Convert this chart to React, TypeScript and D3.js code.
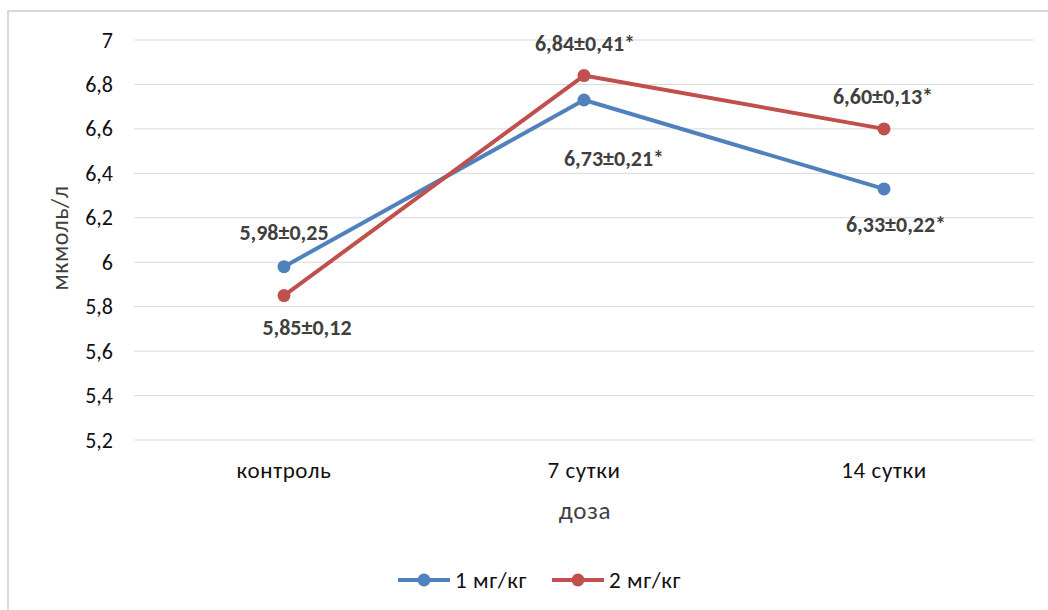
import React from "react";
import * as d3 from "d3";

const categories = ["контроль", "7 сутки", "14 сутки"];
const seriesNames = ["1 мг/кг", "2 мг/кг"];
const series1 = [5.98, 6.73, 6.33];
const series2 = [5.85, 6.84, 6.6];
const labels1 = ["5,98±0,25", "6,73±0,21*", "6,33±0,22*"];
const labels2 = ["5,85±0,12", "6,84±0,41*", "6,60±0,13*"];
const yTicks = [5.2, 5.4, 5.6, 5.8, 6, 6.2, 6.4, 6.6, 6.8, 7];

// label offsets (px) relative to point, positional styling only
const off1 = [[0, -34], [30, 58], [12, 36]];
const off2 = [[23, 32], [1, -32], [-1, -32]];

const W = 1048, H = 610;
const FONT = 'Carlito, Calibri, "Open Sans", sans-serif';

export default function App() {
  const x = d3.scaleBand<string>().domain(categories).range([134, 1034]);
  const y = d3.scaleLinear().domain([5.2, 7]).range([440, 40]);
  const cx = (c: string) => (x(c) as number) + x.bandwidth() / 2;
  const line = d3.line<number>().x((_, i) => cx(categories[i])).y((v) => y(v));
  const colors = ["#4F81BD", "#C0504D"];
  const data = [series1, series2];
  const labs = [labels1, labels2];
  const offs = [off1, off2];
  const fmt = (v: number) => String(v).replace(".", ",");
  return (
    <svg width={W} height={H} style={{ position: "absolute", left: 0, top: 0, background: "#fff" }} fontFamily={FONT}>
      <rect x={8} y={11} width={1200} height={800} fill="#fff" stroke="#d9d9d9" strokeWidth={2} />
      {yTicks.map((t) => (
        <g key={t}>
          <line x1={134} x2={1034} y1={y(t)} y2={y(t)} stroke="#d9d9d9" strokeWidth={1} />
          <text x={113} y={y(t)} textAnchor="end" dominantBaseline="central" fontSize={22} fill="#111">{fmt(t)}</text>
        </g>
      ))}
      {categories.map((c) => (
        <text key={c} x={cx(c)} y={470} textAnchor="middle" dominantBaseline="central" fontSize={23} fill="#111" letterSpacing={0.6}>{c}</text>
      ))}
      <text x={585} y={510} textAnchor="middle" dominantBaseline="central" fontSize={25} fill="#404040" letterSpacing={0.8}>доза</text>
      <text transform={`translate(59,238) rotate(-90)`} textAnchor="middle" dominantBaseline="central" fontSize={24} fill="#404040" letterSpacing={0.5}>мкмоль/л</text>
      {data.map((s, k) => (
        <g key={k}>
          <path d={line(s) || ""} fill="none" stroke={colors[k]} strokeWidth={4} strokeLinejoin="round" strokeLinecap="round" />
          {s.map((v, i) => (
            <circle key={i} cx={cx(categories[i])} cy={y(v)} r={6.5} fill={colors[k]} />
          ))}
        </g>
      ))}
      {data.map((s, k) =>
        s.map((v, i) => (
          <text key={`${k}-${i}`} x={cx(categories[i]) + offs[k][i][0]} y={y(v) + offs[k][i][1]} textAnchor="middle" dominantBaseline="central" fontSize={22} fontWeight={600} fill="#404040">{labs[k][i]}</text>
        ))
      )}
      {seriesNames.map((n, k) => {
        const lx = 398 + k * 154;
        return (
          <g key={n}>
            <line x1={lx} x2={lx + 52} y1={580} y2={580} stroke={colors[k]} strokeWidth={4} />
            <circle cx={lx + 26} cy={580} r={6.5} fill={colors[k]} />
            <text x={lx + 57} y={580} dominantBaseline="central" fontSize={23} fill="#111" letterSpacing={0.6}>{n}</text>
          </g>
        );
      })}
    </svg>
  );
}
